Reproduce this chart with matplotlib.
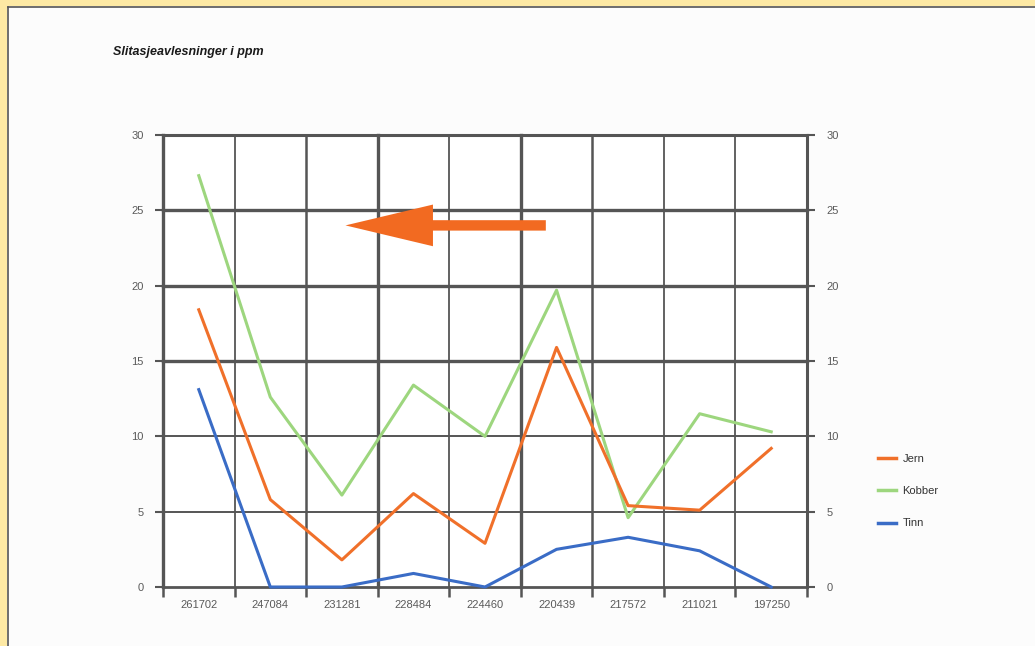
import matplotlib
matplotlib.use("Agg")
import matplotlib.pyplot as plt
from matplotlib.patches import Rectangle
from matplotlib.lines import Line2D

categories = ["261702", "247084", "231281", "228484", "224460",
              "220439", "217572", "211021", "197250"]
jern = [18.4, 5.8, 1.8, 6.2, 2.9, 15.9, 5.4, 5.1, 9.2]
kobber = [27.3, 12.6, 6.1, 13.4, 10.0, 19.7, 4.6, 11.5, 10.3]
tinn = [13.1, 0.0, 0.0, 0.9, 0.0, 2.5, 3.3, 2.4, 0.0]
yticks = [0, 5, 10, 15, 20, 25, 30]
title = "Slitasjeavlesninger i ppm"

plt.rcParams['font.family'] = ['Liberation Sans', 'DejaVu Sans']

fig = plt.figure(figsize=(10.35, 6.46), dpi=100)
fig.patch.set_facecolor("#fcfcfc")
# yellow frame on top and left
fig.add_artist(Rectangle((0, 0), 7/1035, 1, transform=fig.transFigure,
                         facecolor="#fde9a4", edgecolor="none", zorder=0))
fig.add_artist(Rectangle((0, 1 - 6/646), 1, 6/646, transform=fig.transFigure,
                         facecolor="#fde9a4", edgecolor="none", zorder=0))
fig.add_artist(Line2D([7.5/1035, 7.5/1035], [0, 1 - 6.5/646], transform=fig.transFigure,
                      color="#555555", lw=1.2))
fig.add_artist(Line2D([7.5/1035, 1], [1 - 6.5/646, 1 - 6.5/646], transform=fig.transFigure,
                      color="#555555", lw=1.2))

ax = fig.add_axes([163/1035, 1 - 587/646, (807 - 163)/1035, (587 - 135)/646])
ax.set_facecolor("white")
n = len(categories)
x = list(range(n))
ax.set_xlim(-0.5, n - 0.5)
ax.set_ylim(0, 30)

gc = "#555555"
# horizontal gridlines
hw = {0: 2.0, 5: 1.4, 10: 1.4, 15: 2.4, 20: 2.4, 25: 2.4, 30: 2.2}
for v in yticks:
    ax.axhline(v, color=gc, lw=hw[v], zorder=1, clip_on=False)
# vertical gridlines
vw = [2.4, 1.3, 1.8, 2.4, 1.3, 2.4, 1.8, 1.3, 1.3, 2.2]
for i, w in enumerate(vw):
    ax.axvline(i - 0.5, color=gc, lw=w, zorder=1, clip_on=False)

for s in ax.spines.values():
    s.set_visible(False)

ax.plot(x, kobber, color="#9dd67e", lw=2.2, label="Kobber", zorder=3)
ax.plot(x, jern, color="#f0702a", lw=2.2, label="Jern", zorder=4)
ax.plot(x, tinn, color="#3a6cc6", lw=2.2, label="Tinn", zorder=3, clip_on=False)

ax.set_yticks(yticks)
ax.set_yticklabels([str(v) for v in yticks])
ax.tick_params(axis='y', length=6, width=1.5, color=gc, labelsize=8,
               labelcolor="#5a5a5a", pad=8)
ax.set_xticks([i - 0.5 for i in range(n + 1)])
ax.set_xticklabels([])
ax.tick_params(axis='x', which='major', length=7, width=1.8, color=gc)
ax.set_xticks(x, minor=True)
ax.set_xticklabels(categories, minor=True)
ax.tick_params(axis='x', which='minor', length=0, labelsize=8,
               labelcolor="#5a5a5a", pad=9)

ax2 = ax.twinx()
ax2.set_ylim(0, 30)
ax2.set_yticks(yticks)
ax2.set_yticklabels([str(v) for v in yticks])
ax2.tick_params(axis='y', length=6, width=1.5, color=gc, labelsize=8,
                labelcolor="#5a5a5a", pad=8)
for s in ax2.spines.values():
    s.set_visible(False)

# orange arrow
ax.annotate("", xy=(2.05, 24.0), xytext=(4.85, 24.0),
            arrowprops=dict(arrowstyle="simple,head_length=4.2,head_width=2.0,tail_width=0.5",
                            color="#f26a21", lw=0, shrinkA=0, shrinkB=0,
                            mutation_scale=15),
            zorder=5)

fig.text(113/1035, 1 - 52/646, title, fontsize=9, fontweight="bold",
         fontstyle="italic", color="#1a1a1a", va="center")

handles = [Line2D([], [], color="#f0702a", lw=2.5),
           Line2D([], [], color="#9dd67e", lw=2.5),
           Line2D([], [], color="#3a6cc6", lw=2.5)]
fig.legend(handles, ["Jern", "Kobber", "Tinn"], loc="upper left",
           bbox_to_anchor=(868/1035, 1 - 444/646), frameon=False,
           fontsize=8, handlelength=1.6, handletextpad=0.6, labelspacing=2.0,
           labelcolor="#333333")

fig.savefig("out.png", dpi=100, facecolor=fig.get_facecolor())
